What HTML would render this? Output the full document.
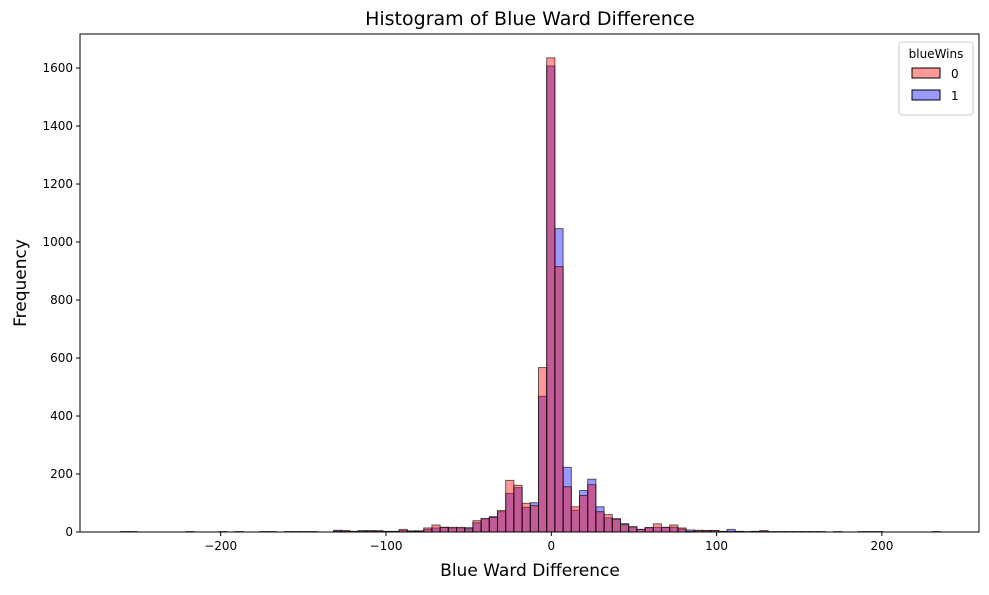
<!DOCTYPE html>
<html><head><meta charset="utf-8"><style>
body{margin:0;background:#fff;}
svg text{font-family:"DejaVu Sans","Liberation Sans",sans-serif;fill:#000;}
</style></head><body>
<svg id="chart" width="989" height="590" xmlns="http://www.w3.org/2000/svg">
<rect width="989" height="590" fill="#fff"/>
<text x="530" y="25" font-size="19" text-anchor="middle">Histogram of Blue Ward Difference</text>
<text x="530" y="576" font-size="17" text-anchor="middle">Blue Ward Difference</text>
<text transform="translate(26,283) rotate(-90)" font-size="17" text-anchor="middle">Frequency</text>
<g id="bars"></g>
<g id="axes"></g>
<g>
<rect x="899" y="42" width="74" height="73" rx="3" fill="#fff" fill-opacity="0.8" stroke="#ccc"/>
<text x="936" y="58" font-size="12" text-anchor="middle">blueWins</text>
<rect x="912" y="68" width="28" height="10" fill="#ff9999" stroke="#000"/>
<text x="951" y="78" font-size="12">0</text>
<rect x="912" y="90" width="28" height="10" fill="#9999ff" stroke="#000"/>
<text x="951" y="100" font-size="12">1</text>
</g>
</svg>
<script>
const binStart = -260.7;
const binWidth = 4.96;
const countsLoss = [1,1,0,0,0,0,0,0,1,0,0,0,1,0,1,0,0,1,1,0,1,1,1,1,0,0,3,5,2,2,5,4,2,2,9,4,3,14,24,16,16,16,11,39,46,50,74,178,161,99,91,567,1635,915,156,87,126,163,70,60,44,25,18,9,15,28,16,24,14,2,6,5,5,2,2,2,1,2,5,1,1,1,1,1,1,1,0,1,0,0,1,1,1,0,0,0,0,0,0,1];
const countsWin = [1,1,0,0,0,0,0,0,1,0,0,0,1,0,1,0,0,1,1,0,1,1,1,1,0,0,6,3,2,5,3,4,2,2,5,3,4,9,14,16,14,14,15,32,46,53,70,133,153,85,101,468,1607,1046,223,75,143,182,87,49,46,29,18,9,15,16,16,16,10,7,4,5,5,2,9,2,1,2,2,1,1,1,1,1,1,1,0,1,0,0,1,1,1,0,0,0,0,0,0,1];
const xTicks = [-200,-100,0,100,200];
const yTicks = [0,200,400,600,800,1000,1200,1400,1600];

const L=80,R=979,T=34,B=532;
const xs = v => 551.3 + v*1.653;
const ys = v => 532 - v*0.29;
const NS="http://www.w3.org/2000/svg";
const bars=document.getElementById('bars');
function drawSeries(arr, fill, nm){
  arr.forEach((c,i)=>{
    if(c<=0) return;
    const x0=xs(binStart+i*binWidth), x1=xs(binStart+(i+1)*binWidth);
    const r=document.createElementNS(NS,'rect');
    r.setAttribute('x',x0);r.setAttribute('width',x1-x0);
    r.setAttribute('y',ys(c));r.setAttribute('height',ys(0)-ys(c));
    r.setAttribute('fill',fill);r.setAttribute('fill-opacity','0.4');
    r.setAttribute('stroke','#000');r.setAttribute('stroke-opacity','0.6');r.setAttribute('stroke-width','1');
    
    
    bars.appendChild(r);
  });
}
drawSeries(countsWin,'#0000ff','bar-bluewins-1');
drawSeries(countsLoss,'#ff0000','bar-bluewins-0');

const axes=document.getElementById('axes');
const frame=document.createElementNS(NS,'rect');
frame.setAttribute('x',L);frame.setAttribute('y',T);frame.setAttribute('width',R-L);frame.setAttribute('height',B-T);
frame.setAttribute('fill','none');frame.setAttribute('stroke','#000');frame.setAttribute('stroke-width','1');


axes.appendChild(frame);
xTicks.forEach(v=>{
  const x=xs(v);
  const l=document.createElementNS(NS,'line');
  l.setAttribute('x1',x);l.setAttribute('x2',x);l.setAttribute('y1',B);l.setAttribute('y2',B+4);l.setAttribute('stroke','#000');
  
  
  axes.appendChild(l);
  const t=document.createElementNS(NS,'text');
  t.setAttribute('x',x);t.setAttribute('y',B+18);t.setAttribute('font-size','12');t.setAttribute('text-anchor','middle');
  t.textContent=(v<0?'\u2212'+(-v):String(v));
  
  
  axes.appendChild(t);
});
yTicks.forEach(v=>{
  const y=ys(v);
  const l=document.createElementNS(NS,'line');
  l.setAttribute('x1',L-4);l.setAttribute('x2',L);l.setAttribute('y1',y);l.setAttribute('y2',y);l.setAttribute('stroke','#000');
  
  
  axes.appendChild(l);
  const t=document.createElementNS(NS,'text');
  t.setAttribute('x',L-7);t.setAttribute('y',y+4);t.setAttribute('font-size','12');t.setAttribute('text-anchor','end');
  t.textContent=String(v);
  
  
  axes.appendChild(t);
});
</script>
</body></html>
